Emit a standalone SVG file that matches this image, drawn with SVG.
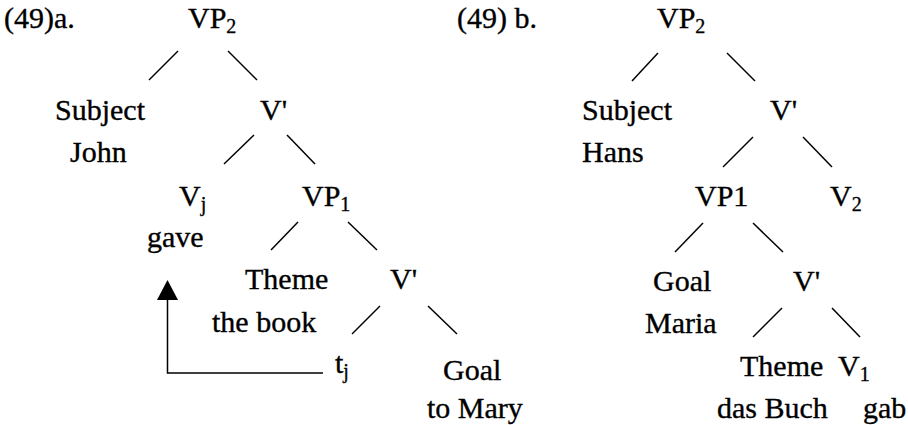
<svg xmlns="http://www.w3.org/2000/svg" width="908" height="425" viewBox="0 0 908 425">
<style>
text{font-family:"Liberation Serif","Times New Roman",serif;font-size:30px;fill:#000;stroke:#000;stroke-width:0.35}
.sub{font-size:20px}
#connectors line,#connectors path{stroke:#000;stroke-width:1.5;fill:none}
#connectors polygon{fill:#000;stroke:none}
</style>
<rect width="908" height="425" fill="#fff"/>
<g id="connectors">
<line x1="178" y1="51" x2="149" y2="80"/>
<line x1="228" y1="51" x2="257" y2="80"/>
<line x1="254" y1="135" x2="224" y2="164"/>
<line x1="287" y1="135" x2="315" y2="164"/>
<line x1="298" y1="222" x2="271" y2="250"/>
<line x1="348" y1="222" x2="377" y2="250"/>
<line x1="380" y1="306" x2="352" y2="334"/>
<line x1="428" y1="306" x2="457" y2="334"/>
<path d="M323 373 H167.5 V298"/>
<polygon points="157,300 178,300 167.5,280"/>
<line x1="658" y1="53" x2="632" y2="81"/>
<line x1="727" y1="53" x2="755" y2="81"/>
<line x1="753" y1="137" x2="723" y2="167"/>
<line x1="803" y1="137" x2="832" y2="167"/>
<line x1="703" y1="223" x2="675" y2="252"/>
<line x1="753" y1="223" x2="783" y2="252"/>
<line x1="782" y1="308" x2="753" y2="337"/>
<line x1="832" y1="308" x2="860" y2="337"/>
</g>
<g id="label-a"><text x="4" y="28">(49)a.</text></g>
<g id="a-VP2"><text x="188" y="28">VP<tspan class="sub" dy="5">2</tspan></text></g>
<g id="a-subject"><text x="55" y="120">Subject</text><text x="70" y="162">John</text></g>
<g id="a-Vbar1"><text x="260" y="120">V'</text></g>
<g id="a-Vj"><text x="179" y="206">V<tspan class="sub" dy="5">j</tspan></text><text x="147" y="247">gave</text></g>
<g id="a-VP1"><text x="302" y="206">VP<tspan class="sub" dy="5">1</tspan></text></g>
<g id="a-theme"><text x="245" y="289">Theme</text><text x="212" y="332">the book</text></g>
<g id="a-Vbar2"><text x="390" y="289">V'</text></g>
<g id="a-tj"><text x="335" y="373">t<tspan class="sub" dy="5">j</tspan></text></g>
<g id="a-goal"><text x="443" y="380">Goal</text><text x="427" y="418">to Mary</text></g>
<g id="label-b"><text x="457" y="28">(49) b.</text></g>
<g id="b-VP2"><text x="657" y="28">VP<tspan class="sub" dy="5">2</tspan></text></g>
<g id="b-subject"><text x="582" y="120">Subject</text><text x="582" y="162">Hans</text></g>
<g id="b-Vbar1"><text x="770" y="120">V'</text></g>
<g id="b-VP1"><text x="695" y="206">VP1</text></g>
<g id="b-V2"><text x="830" y="206">V<tspan class="sub" dy="5">2</tspan></text></g>
<g id="b-goal"><text x="653" y="291">Goal</text><text x="645" y="333">Maria</text></g>
<g id="b-Vbar2"><text x="793" y="291">V'</text></g>
<g id="b-theme"><text x="740" y="376">Theme</text><text x="717" y="418">das Buch</text></g>
<g id="b-V1"><text x="838" y="376">V<tspan class="sub" dy="5">1</tspan></text><text x="863" y="418">gab</text></g>
</svg>
